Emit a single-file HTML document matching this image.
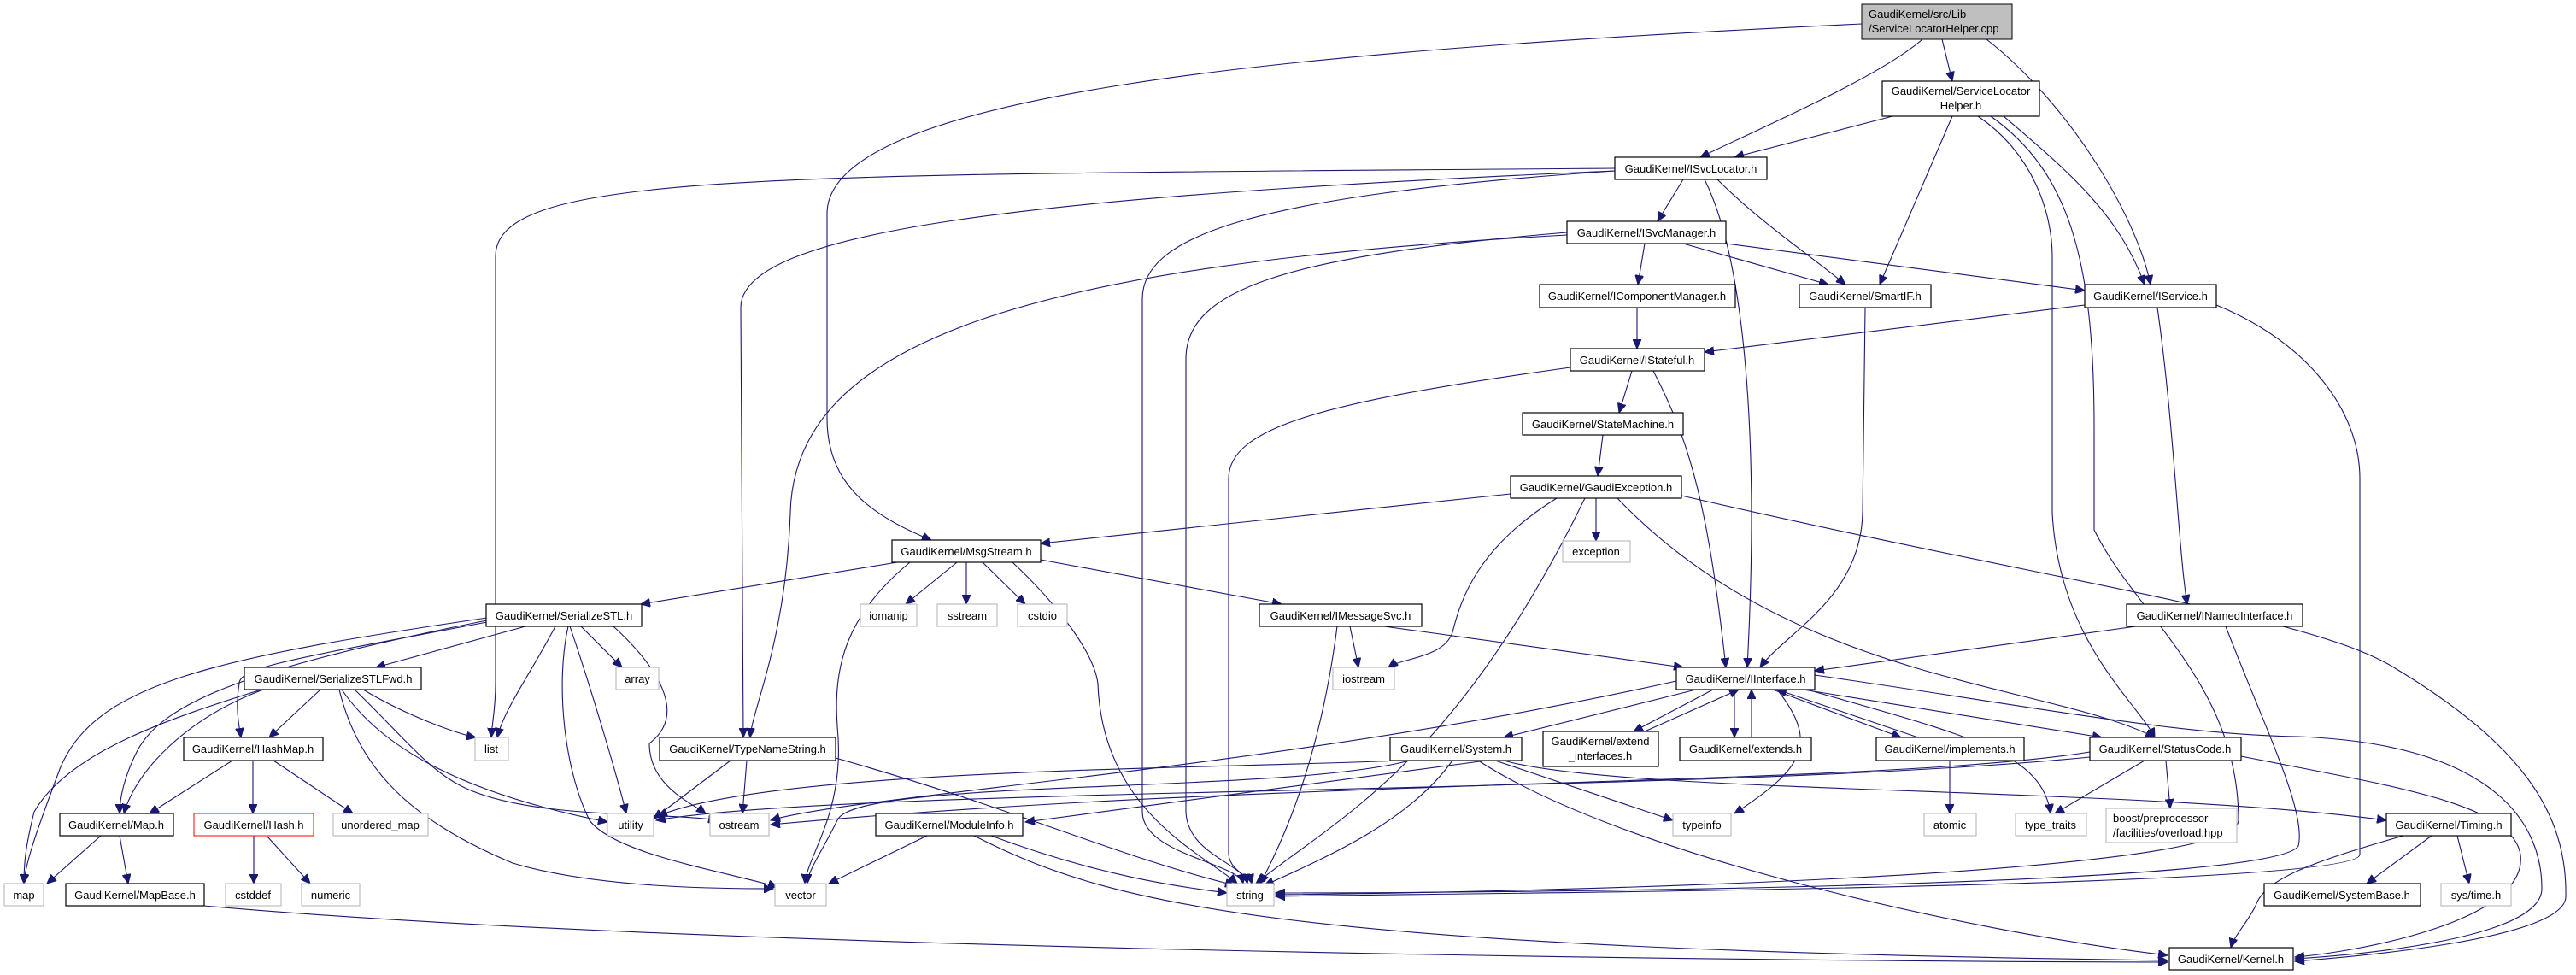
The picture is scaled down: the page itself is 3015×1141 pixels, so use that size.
<!DOCTYPE html>
<html><head><meta charset="utf-8"><style>
html,body{margin:0;padding:0;background:#fff;}
svg{display:block;}
text{font-family:"Liberation Sans",Arial,sans-serif;font-size:13px;fill:#000;}
.n{fill:#fff;stroke:#000;stroke-width:1.2;}
.g{fill:#fff;stroke:#bfbfbf;stroke-width:1.2;}
.e{fill:none;stroke:#191970;stroke-width:1.1;}
</style></head><body>
<svg width="3015" height="1141" viewBox="0 0 3015 1141" xmlns="http://www.w3.org/2000/svg">
<defs>
<marker id="a" markerWidth="12" markerHeight="10" refX="11" refY="5" orient="auto" markerUnits="userSpaceOnUse">
<path d="M0,0 L11,5 L0,10 z" fill="#191970" stroke="#191970"/></marker>
</defs>
<g class="e" marker-end="url(#a)">
<path d="M2250 46 C2200 90 2060 150 1990 184"/>
<path d="M2273 46 L2285 95"/>
<path d="M2325 46 C2420 120 2500 250 2517 333"/>
<path d="M2179 28 C1500 60 968 110 968 250 L968 490 C968 560 1010 600 1090 632"/>
<path d="M2215 136 L2030 184"/>
<path d="M2285 136 L2200 333"/>
<path d="M2345 136 C2420 200 2480 250 2510 333"/>
<path d="M2315 136 C2380 180 2402 250 2402 300 L2402 600 C2410 750 2500 820 2522 863"/>
<path d="M2330 136 C2420 200 2451 300 2451 500 L2451 620 C2500 720 2620 800 2620 960 C2620 1030 1700 1045 1493 1047"/>
<path d="M1970 210 L1940 259"/>
<path d="M2010 210 C2060 260 2120 300 2160 333"/>
<path d="M1995 210 C2040 300 2060 500 2045 781"/>
<path d="M1890 197 C900 205 580 200 580 300 L580 800 C580 830 576 845 575 863"/>
<path d="M1890 200 C1200 230 867 270 867 360 L870 863"/>
<path d="M1890 200 C1450 230 1337 280 1337 350 L1337 950 C1337 1000 1450 1010 1455 1034"/>
<path d="M1925 285 L1917 333"/>
<path d="M1970 285 L2140 333"/>
<path d="M2020 285 L2440 340"/>
<path d="M1834 275 C1200 310 930 400 925 600 C920 750 880 830 878 863"/>
<path d="M1834 272 C1500 300 1388 340 1388 420 L1388 950 C1390 1000 1455 1010 1460 1034"/>
<path d="M1916 360 L1916 408"/>
<path d="M2183 360 L2180 600 C2178 700 2090 740 2060 781"/>
<path d="M2440 357 L1995 412"/>
<path d="M2525 360 C2545 500 2550 650 2560 707"/>
<path d="M2594 357 C2700 400 2762 480 2762 560 L2762 1000 C2762 1040 1700 1045 1493 1049"/>
<path d="M1910 434 L1895 483"/>
<path d="M1935 434 C1980 520 2000 600 2020 781"/>
<path d="M1838 430 C1550 470 1438 500 1438 560 L1438 1000 C1440 1020 1463 1025 1465 1034"/>
<path d="M1876 509 L1870 557"/>
<path d="M1768 578 L1218 636"/>
<path d="M1868 583 L1868 633"/>
<path d="M1822 583 C1730 640 1710 700 1700 740 C1690 770 1640 770 1625 781"/>
<path d="M1855 583 C1700 900 1560 960 1470 1034"/>
<path d="M1893 583 C2100 800 2400 800 2522 863"/>
<path d="M1968 580 C2400 680 2700 720 2800 780 C2950 870 3005 950 3003 1050 C3000 1100 2750 1120 2686 1125"/>
<path d="M1050 658 L750 707"/>
<path d="M1120 658 L1060 707"/>
<path d="M1131 658 L1131 707"/>
<path d="M1150 658 L1200 707"/>
<path d="M1218 655 L1500 707"/>
<path d="M1065 658 C990 720 975 780 980 850 C990 950 945 1000 942 1034"/>
<path d="M1185 658 C1230 700 1280 760 1285 800 C1290 950 1410 1000 1448 1034"/>
<path d="M1580 733 L1590 781"/>
<path d="M1620 733 L1970 781"/>
<path d="M1565 733 C1550 850 1520 950 1475 1034"/>
<path d="M2500 733 L2124 785"/>
<path d="M2605 733 C2650 850 2700 950 2690 990 C2660 1040 1700 1045 1493 1045"/>
<path d="M615 733 L440 781"/>
<path d="M680 733 L728 781"/>
<path d="M570 728 C350 770 280 780 280 800 C275 830 280 850 282 863"/>
<path d="M570 726 C300 780 190 820 160 880 C145 910 140 935 140 952"/>
<path d="M570 723 C250 770 110 800 70 900 C40 980 30 1010 28 1034"/>
<path d="M650 733 C620 790 590 830 582 863"/>
<path d="M665 733 C650 800 660 900 690 960 C720 1000 850 1020 910 1038"/>
<path d="M667 733 C690 800 720 900 733 952"/>
<path d="M718 733 C780 790 800 840 760 870 C760 920 810 940 826 952"/>
<path d="M375 807 L315 863"/>
<path d="M308 807 C220 840 160 900 145 952"/>
<path d="M306 807 C200 840 80 880 40 950 C30 990 28 1010 28 1034"/>
<path d="M425 807 C480 840 540 860 557 863"/>
<path d="M400 807 C450 880 550 930 711 962"/>
<path d="M415 807 C470 860 500 900 540 920 C620 960 780 950 840 960"/>
<path d="M397 807 C420 900 480 960 600 1010 C700 1040 850 1040 905 1040"/>
<path d="M272 890 L175 952"/>
<path d="M296 890 L296 952"/>
<path d="M320 890 L413 952"/>
<path d="M118 978 L55 1034"/>
<path d="M140 978 L150 1034"/>
<path d="M297 978 L297 1034"/>
<path d="M312 978 L363 1034"/>
<path d="M239 1060 C800 1110 2000 1125 2537 1126"/>
<path d="M855 890 L765 958"/>
<path d="M874 890 L869 952"/>
<path d="M978 887 C1200 950 1300 1000 1445 1036"/>
<path d="M1962 797 C1500 900 1000 930 902 960"/>
<path d="M1985 807 L1760 863"/>
<path d="M2005 807 L1912 856"/>
<path d="M2030 807 L2030 863"/>
<path d="M2075 807 L2225 863"/>
<path d="M2110 807 L2460 863"/>
<path d="M2080 807 C2130 870 2110 900 2030 952"/>
<path d="M2115 807 C2300 860 2390 880 2400 952"/>
<path d="M2124 790 C2400 830 2550 860 2690 862 C2900 870 2975 950 2975 1040 C2975 1100 2750 1118 2686 1122"/>
<path d="M1925 856 L2035 807"/>
<path d="M2050 863 L2050 807"/>
<path d="M2245 863 L2080 807"/>
<path d="M2282 890 L2282 952"/>
<path d="M1740 890 L1200 962"/>
<path d="M1750 890 L1958 960"/>
<path d="M1700 890 C1650 960 1560 1000 1480 1036"/>
<path d="M1730 890 C1900 1000 2300 1090 2537 1118"/>
<path d="M1760 890 C1900 930 2500 920 2793 960"/>
<path d="M1650 890 C1500 930 1000 910 980 960 C960 1000 945 1020 945 1034"/>
<path d="M1640 890 C1400 900 900 900 770 955"/>
<path d="M2510 890 L2405 952"/>
<path d="M2535 890 L2540 946"/>
<path d="M2446 880 C2200 920 1500 910 902 965"/>
<path d="M2446 886 C2000 930 1000 920 768 960"/>
<path d="M2623 885 C2800 920 2940 940 2950 1000 C2960 1080 2750 1115 2686 1120"/>
<path d="M1085 978 L970 1034"/>
<path d="M1160 978 C1300 1030 1400 1040 1436 1045"/>
<path d="M1140 978 C1300 1060 1500 1110 2537 1124"/>
<path d="M2813 978 C2700 1010 2650 1030 2640 1060 C2630 1080 2615 1095 2611 1109"/>
<path d="M2846 978 L2770 1034"/>
<path d="M2876 978 L2890 1034"/>
</g>
<g>
<rect x="2179" y="5" width="176" height="41" fill="#bfbfbf" stroke="#000"/>
<text x="2187" y="21">GaudiKernel/src/Lib</text><text x="2187" y="38">/ServiceLocatorHelper.cpp</text>
<rect class="n" x="2203" y="95" width="184" height="41"/>
<text x="2295" y="111" text-anchor="middle">GaudiKernel/ServiceLocator</text><text x="2295" y="128" text-anchor="middle">Helper.h</text>
<g text-anchor="middle">
<rect class="n" x="1890" y="184" width="178" height="26"/><text x="1979" y="202">GaudiKernel/ISvcLocator.h</text>
<rect class="n" x="1834" y="259" width="186" height="26"/><text x="1927" y="277">GaudiKernel/ISvcManager.h</text>
<rect class="n" x="1802" y="333" width="229" height="27"/><text x="1916" y="351">GaudiKernel/IComponentManager.h</text>
<rect class="n" x="2106" y="333" width="154" height="27"/><text x="2183" y="351">GaudiKernel/SmartIF.h</text>
<rect class="n" x="2440" y="333" width="154" height="27"/><text x="2517" y="351">GaudiKernel/IService.h</text>
<rect class="n" x="1838" y="408" width="157" height="26"/><text x="1916" y="426">GaudiKernel/IStateful.h</text>
<rect class="n" x="1782" y="483" width="188" height="26"/><text x="1876" y="501">GaudiKernel/StateMachine.h</text>
<rect class="n" x="1768" y="557" width="200" height="26"/><text x="1868" y="575">GaudiKernel/GaudiException.h</text>
<rect class="g" x="1829" y="633" width="79" height="25"/><text x="1868" y="650">exception</text>
<rect class="n" x="1044" y="632" width="174" height="26"/><text x="1131" y="650">GaudiKernel/MsgStream.h</text>
<rect class="g" x="1007" y="707" width="66" height="26"/><text x="1040" y="725">iomanip</text>
<rect class="g" x="1097" y="707" width="70" height="26"/><text x="1132" y="725">sstream</text>
<rect class="g" x="1191" y="707" width="58" height="26"/><text x="1220" y="725">cstdio</text>
<rect class="n" x="569" y="707" width="182" height="26"/><text x="660" y="725">GaudiKernel/SerializeSTL.h</text>
<rect class="n" x="1474" y="707" width="190" height="26"/><text x="1569" y="725">GaudiKernel/IMessageSvc.h</text>
<rect class="n" x="2489" y="707" width="206" height="26"/><text x="2592" y="725">GaudiKernel/INamedInterface.h</text>
<rect class="n" x="286" y="781" width="207" height="26"/><text x="390" y="799">GaudiKernel/SerializeSTLFwd.h</text>
<rect class="g" x="721" y="781" width="50" height="26"/><text x="746" y="799">array</text>
<rect class="g" x="1560" y="781" width="72" height="26"/><text x="1596" y="799">iostream</text>
<rect class="n" x="1962" y="781" width="162" height="26"/><text x="2043" y="799">GaudiKernel/IInterface.h</text>
<rect class="n" x="215" y="863" width="163" height="27"/><text x="296" y="881">GaudiKernel/HashMap.h</text>
<rect class="g" x="556" y="863" width="39" height="27"/><text x="575" y="881">list</text>
<rect class="n" x="772" y="863" width="206" height="27"/><text x="875" y="881">GaudiKernel/TypeNameString.h</text>
<rect class="n" x="1627" y="863" width="154" height="27"/><text x="1704" y="881">GaudiKernel/System.h</text>
<rect class="n" x="1806" y="856" width="135" height="41"/><text x="1873" y="872">GaudiKernel/extend</text><text x="1873" y="889">_interfaces.h</text>
<rect class="n" x="1966" y="863" width="154" height="27"/><text x="2043" y="881">GaudiKernel/extends.h</text>
<rect class="n" x="2196" y="863" width="173" height="27"/><text x="2282" y="881">GaudiKernel/implements.h</text>
<rect class="n" x="2446" y="863" width="177" height="27"/><text x="2534" y="881">GaudiKernel/StatusCode.h</text>
<rect class="n" x="70" y="952" width="133" height="26"/><text x="136" y="970">GaudiKernel/Map.h</text>
<rect x="227" y="952" width="140" height="26" fill="#fff" stroke="#ff0000"/><text x="297" y="970">GaudiKernel/Hash.h</text>
<rect class="g" x="390" y="952" width="111" height="26"/><text x="445" y="970">unordered_map</text>
<rect class="g" x="711" y="952" width="54" height="26"/><text x="738" y="970">utility</text>
<rect class="g" x="831" y="952" width="69" height="26"/><text x="865" y="970">ostream</text>
<rect class="n" x="1025" y="952" width="172" height="26"/><text x="1111" y="970">GaudiKernel/ModuleInfo.h</text>
<rect class="g" x="1958" y="952" width="68" height="26"/><text x="1992" y="970">typeinfo</text>
<rect class="g" x="2252" y="952" width="61" height="26"/><text x="2282" y="970">atomic</text>
<rect class="g" x="2359" y="952" width="83" height="26"/><text x="2400" y="970">type_traits</text>
<rect class="n" x="2793" y="952" width="146" height="26"/><text x="2866" y="970">GaudiKernel/Timing.h</text>
<rect class="g" x="5" y="1034" width="46" height="26"/><text x="28" y="1052">map</text>
<rect class="n" x="77" y="1034" width="162" height="26"/><text x="158" y="1052">GaudiKernel/MapBase.h</text>
<rect class="g" x="264" y="1034" width="65" height="26"/><text x="296" y="1052">cstddef</text>
<rect class="g" x="353" y="1034" width="68" height="26"/><text x="387" y="1052">numeric</text>
<rect class="g" x="907" y="1034" width="60" height="26"/><text x="937" y="1052">vector</text>
<rect class="g" x="1436" y="1034" width="55" height="26"/><text x="1463" y="1052">string</text>
<rect class="n" x="2650" y="1034" width="183" height="26"/><text x="2741" y="1052">GaudiKernel/SystemBase.h</text>
<rect class="g" x="2857" y="1034" width="82" height="26"/><text x="2898" y="1052">sys/time.h</text>
<rect class="n" x="2539" y="1109" width="145" height="26"/><text x="2611" y="1127">GaudiKernel/Kernel.h</text>
</g>
<rect class="g" x="2465" y="946" width="153" height="40"/>
<text x="2473" y="962">boost/preprocessor</text><text x="2473" y="979">/facilities/overload.hpp</text>
</g>
</svg>
</body></html>
